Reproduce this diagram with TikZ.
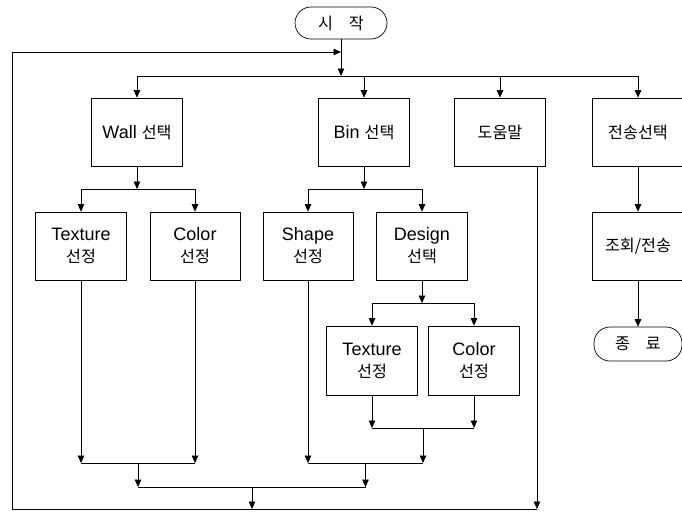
\documentclass[tikz,border=0pt]{standalone}
\usepackage{fontspec}
\setmainfont{Liberation Sans}
\newfontfamily\kr[Scale=0.9]{Noto Sans CJK KR}
\usetikzlibrary{arrows.meta, positioning}

\begin{document}
\begin{tikzpicture}[x=1pt, y=-1pt, line width=0.7pt,
    font=\fontsize{18}{22}\selectfont,
    >={Triangle[length=7.5pt, width=6.5pt]},
    procbox/.style={draw, align=center, minimum width=91pt,
                    minimum height=68pt, inner sep=2pt},
    termbox/.style={draw, rounded corners=16pt, minimum width=92pt,
                    minimum height=32pt, inner sep=2pt}]
    \useasboundingbox (0,0) rectangle (682,512);
    % top row
    \node[termbox] (start) at (341,23) {\kr 시\hspace{16pt}작};
    \node[procbox] (wall) at (137,132) {Wall {\kr 선택}};
    \node[procbox] (bin) at (364,132) {Bin {\kr 선택}};
    \node[procbox] (help) at (500,132) {\kr 도움말};
    \node[procbox] (send) at (638,132) {\kr 전송선택};
    % second row
    \node[procbox] (wtex) at (81,246) {Texture\\{\kr 선정}};
    \node[procbox, minimum width=90pt] (wcol) at (195,246) {Color\\{\kr 선정}};
    \node[procbox, minimum width=90pt] (shape) at (308,246) {Shape\\{\kr 선정}};
    \node[procbox] (design) at (422,246) {Design\\{\kr 선택}};
    \node[procbox] (query) at (638,246) {\kr 조회/전송};
    % third row
    \node[procbox, minimum height=69pt] (dtex) at (372,360.5) {Texture\\{\kr 선정}};
    \node[procbox, minimum height=69pt] (dcol) at (474,360.5) {Color\\{\kr 선정}};
    \node[termbox, minimum width=88pt, minimum height=34pt] (finish) at (638,344)
      {\kr 종\hspace{16pt}료};

    % splits
    \coordinate (loop) at (341,52);
    \coordinate (topbus) at (341,76);
    \draw[->] (start) -- (topbus);
    \draw (wall |- topbus) -- (send |- topbus);
    \foreach \n in {wall,bin,help,send} \draw[->] (\n |- topbus) -- (\n.north);
    \coordinate (wsplit) at (137,189);
    \draw[->] (wall) -- (wsplit);
    \draw (wtex |- wsplit) -- (wcol |- wsplit);
    \foreach \n in {wtex,wcol} \draw[->] (\n |- wsplit) -- (\n.north);
    \coordinate (bsplit) at (364,189);
    \draw[->] (bin) -- (bsplit);
    \draw (shape |- bsplit) -- (design |- bsplit);
    \foreach \n in {shape,design} \draw[->] (\n |- bsplit) -- (\n.north);
    \coordinate (dsplit) at (422,303);
    \draw[->] (design) -- (dsplit);
    \draw (dtex |- dsplit) -- (dcol |- dsplit);
    \foreach \n in {dtex,dcol} \draw[->] (\n |- dsplit) -- (\n.north);
    \draw[->] (send) -- (query);
    \draw[->] (query) -- (finish);

    % joins
    \coordinate (djoin) at (423,428);
    \foreach \n in {dtex,dcol} \draw[->] (\n) -- (\n |- djoin);
    \draw (dtex |- djoin) -- (dcol |- djoin);
    \coordinate (wjoin) at (138,463);
    \coordinate (bjoin) at (365.5,463);
    \foreach \n in {wtex,wcol,shape} \draw[->] (\n) -- (\n |- wjoin);
    \draw[->] (djoin) -- (djoin |- bjoin);
    \draw (wtex |- wjoin) -- (wcol |- wjoin);
    \draw (shape |- bjoin) -- (djoin |- bjoin);
    \coordinate (ajoin) at (252,487);
    \foreach \n in {wjoin,bjoin} \draw[->] (\n) -- (\n |- ajoin);
    \draw (wjoin |- ajoin) -- (bjoin |- ajoin);
    \coordinate (bottom) at (252,509);
    \draw[->] (ajoin) -- (bottom);
    \coordinate (helpdrop) at (537,509);
    \coordinate (loopleft) at (12,52);
    \draw[->] (help.south -| helpdrop) -- (helpdrop);
    \draw[->] (helpdrop) -| (loopleft) -- (loop);
\end{tikzpicture}
\end{document}
